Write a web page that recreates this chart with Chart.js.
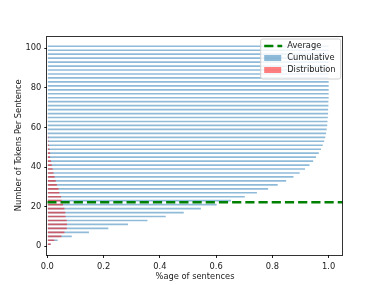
<!DOCTYPE html>
<html>
<head>
<meta charset="utf-8">
<script src="https://cdn.jsdelivr.net/npm/chart.js@4"></script>
<style>
  html, body { margin: 0; padding: 0; background: #fff; }
  #wrap { width: 381px; height: 285px; }
</style>
</head>
<body>
<div id="wrap"><canvas id="chartTokens" width="381" height="285"></canvas></div>
<script>
// --- DATA ---
const tokenBins = [1, 3, 5, 7, 9, 11, 13, 15, 17, 19, 21, 23, 25, 27, 29, 31, 33, 35, 37, 39,
  41, 43, 45, 47, 49, 51, 53, 55, 57, 59, 61, 63, 65, 67, 69, 71, 73, 75, 77, 79,
  81, 83, 85, 87, 89, 91, 93, 95, 97, 99, 101];
const cumulative = [0.012, 0.037, 0.087, 0.148, 0.217, 0.287, 0.356, 0.421, 0.485, 0.546,
  0.602, 0.653, 0.702, 0.745, 0.785, 0.819, 0.849, 0.875, 0.897, 0.916,
  0.932, 0.945, 0.955, 0.965, 0.973, 0.979, 0.984, 0.988, 0.991, 0.993,
  0.995, 0.996, 0.997, 0.998, 0.998, 0.999, 0.999, 1.0, 1.0, 1.0,
  1.0, 1.0, 1.0, 1.0, 1.0, 1.0, 1.0, 1.0, 1.0, 1.0, 1.0];
const distribution = [0.012, 0.025, 0.050, 0.061, 0.069, 0.070, 0.069, 0.065, 0.064, 0.061,
  0.056, 0.051, 0.049, 0.043, 0.040, 0.034, 0.030, 0.026, 0.022, 0.019,
  0.016, 0.013, 0.010, 0.010, 0.008, 0.006, 0.005, 0.004, 0.003, 0.002,
  0.002, 0.001, 0.001, 0.001, 0, 0.001, 0, 0, 0, 0,
  0, 0, 0, 0, 0, 0, 0, 0, 0, 0, 0];
const averageTokens = 22.2;
const xTicks = [0, 0.2, 0.4, 0.6, 0.8, 1.0];
const yTicks = [0, 20, 40, 60, 80, 100];

const FONT = "'DejaVu Sans', sans-serif";
const BLUE = 'rgba(31,119,180,0.5)';
const RED = 'rgba(255,0,0,0.5)';
const GREEN = '#008000';

// kotak di sekeliling area plot (spines)
const framePlugin = {
  id: 'frame',
  afterDatasetsDraw(chart) {
    const a = chart.chartArea, ctx = chart.ctx;
    ctx.save();
    ctx.strokeStyle = 'rgba(0,0,0,0.8)';
    ctx.lineWidth = 1;
    ctx.strokeRect(Math.round(a.left) - 0.5, Math.round(a.top) + 0.5,
      Math.round(a.right - a.left) + 1, Math.round(a.bottom - a.top) - 1);
    ctx.restore();
  }
};

// legenda di pojok kanan atas, gaya matplotlib
const legendPlugin = {
  id: 'mplLegend',
  afterDraw(chart) {
    const a = chart.chartArea, ctx = chart.ctx;
    const w = 80, h = 40;
    const x = a.right - 2.5 - w, y = a.top + 3;
    ctx.save();
    ctx.fillStyle = 'rgba(255,255,255,0.85)';
    ctx.strokeStyle = '#d0d0d0';
    ctx.lineWidth = 1;
    ctx.beginPath();
    ctx.roundRect(x + 0.5, y + 0.5, w, h, 2);
    ctx.fill();
    ctx.stroke();

    const items = chart.data.datasets.slice().sort((p, q) => p.legendRank - q.legendRank);
    ctx.font = '8.3px ' + FONT;
    ctx.textBaseline = 'middle';
    items.forEach((ds, i) => {
      const cy = y + 7.5 + i * 12;
      if (ds.type === 'line') {
        ctx.strokeStyle = ds.borderColor;
        ctx.lineWidth = ds.borderWidth;
        ctx.setLineDash(ds.borderDash);
        ctx.beginPath();
        ctx.moveTo(x + 4, cy);
        ctx.lineTo(x + 22, cy);
        ctx.stroke();
        ctx.setLineDash([]);
      } else {
        ctx.fillStyle = ds.backgroundColor;
        ctx.fillRect(x + 4, cy - 3, 17, 6);
      }
      ctx.fillStyle = '#222';
      ctx.fillText(ds.label, x + 27, cy);
    });
    ctx.restore();
  }
};

const ctx = document.getElementById('chartTokens').getContext('2d');
const chartTokens = new Chart(ctx, {
  type: 'bar',
  data: {
    datasets: [
      {
        type: 'line', label: 'Average', legendRank: 0, order: 0,
        data: [{ x: 0, y: averageTokens }, { x: 1.05, y: averageTokens }],
        borderColor: GREEN, borderWidth: 2.5, borderDash: [9.2, 4],
        pointRadius: 0, fill: false
      },
      {
        label: 'Distribution', legendRank: 2, order: 1, indexAxis: 'y',
        data: tokenBins.map((t, i) => ({ x: distribution[i], y: t })),
        backgroundColor: RED, borderWidth: 0
      },
      {
        label: 'Cumulative', legendRank: 1, order: 2, indexAxis: 'y',
        data: tokenBins.map((t, i) => ({ x: cumulative[i], y: t })),
        backgroundColor: BLUE, borderWidth: 0
      }
    ]
  },
  options: {
    responsive: false,
    animation: false,
    indexAxis: 'y',
    layout: { padding: { top: 35.5, right: 38.3, left: 0, bottom: 0 } },
    datasets: { bar: { grouped: false, barPercentage: 0.42, categoryPercentage: 1 } },
    plugins: { legend: { display: false }, tooltip: { enabled: false } },
    scales: {
      x: {
        type: 'linear', min: 0, max: 1.05, offset: false,
        afterBuildTicks: s => { s.ticks = xTicks.map(v => ({ value: v })); },
        afterFit: s => { s.height = 30; },
        ticks: { color: '#222', font: { family: FONT, size: 8.3 }, padding: 4,
          callback: v => v.toFixed(1), maxRotation: 0 },
        grid: { offset: false, drawOnChartArea: false, tickLength: 3, color: '#222', tickColor: '#222' },
        border: { display: false },
        title: { display: true, text: '%age of sentences', color: '#222',
          font: { family: FONT, size: 8.3 }, padding: { top: 0, bottom: 3 } }
      },
      y: {
        type: 'linear', min: -4.44, max: 106.44, offset: false,
        afterBuildTicks: s => { s.ticks = yTicks.map(v => ({ value: v })); },
        afterFit: s => { s.width = 47.3; },
        ticks: { color: '#222', font: { family: FONT, size: 8.3 }, padding: 3 },
        grid: { offset: false, drawOnChartArea: false, tickLength: 3, color: '#222', tickColor: '#222' },
        border: { display: false },
        title: { display: true, text: 'Number of Tokens Per Sentence', color: '#222',
          font: { family: FONT, size: 8.3 }, padding: { top: 14, bottom: 0 } }
      }
    }
  },
  plugins: [framePlugin, legendPlugin]
});
</script>
</body>
</html>
